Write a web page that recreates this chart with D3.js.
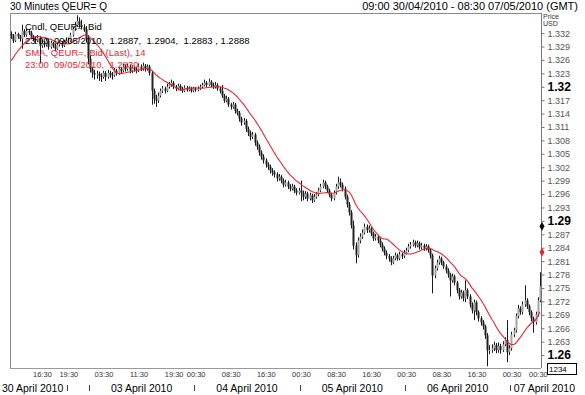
<!DOCTYPE html>
<html lang="en">
<head>
<meta charset="utf-8">
<title>QEUR= 30 minute candles</title>
<script src="https://cdn.jsdelivr.net/npm/d3@7"></script>
<style>
  body { margin: 0; background: #fff; }
  svg text { font-family: "Liberation Sans", Arial, sans-serif; }
</style>
</head>
<body>
<script>
// sessions (day label, bars in session); the Sunday evening session has no label
var sessionDays = ["30 April 2010", "", "03 April 2010", "04 April 2010", "05 April 2010", "06 April 2010", "07 April 2010"];
var sessionBars = [26, 10, 48, 48, 48, 48, 14];

// time labels under the plot, by bar index
var timeTickIndex  = [15, 27, 43, 59, 75, 85, 101, 117, 133, 149, 165, 181, 197, 213, 229, 241];
var timeTickLabels = ["16:30", "19:30", "03:30", "11:30", "19:30", "00:30", "08:30", "16:30",
                      "00:30", "08:30", "16:30", "00:30", "08:30", "16:30", "00:30", "00:30"];

var priceTicks = [1.26, 1.263, 1.266, 1.269, 1.272, 1.275, 1.278, 1.281, 1.284, 1.287, 1.29,
                  1.293, 1.296, 1.299, 1.302, 1.305, 1.308, 1.311, 1.314, 1.317, 1.32,
                  1.323, 1.326, 1.329, 1.332];
var boldTicks = [1.26, 1.29, 1.32];

// closes before the first visible bar, needed for the 14 period SMA
var warmupCloses = [1.3202, 1.3213, 1.3218, 1.3225, 1.3236, 1.3245, 1.3254, 1.3263, 1.3269, 1.3280, 1.3289, 1.3298, 1.3307];

var opens = [
  1.3318,1.3314,1.3303,1.3318,1.3312,1.3307,1.3325,1.3316,1.3325,1.3321,
  1.3312,1.3307,1.3303,1.3309,1.3292,1.3298,1.3294,1.3303,1.3289,1.3298,
  1.3292,1.3285,1.3294,1.3298,1.3292,1.3300,1.3303,1.3303,1.3316,1.3329,
  1.3338,1.3347,1.3338,1.3334,1.3329,1.3307,1.3263,1.3240,1.3231,1.3227,
  1.3229,1.3225,1.3222,1.3231,1.3222,1.3231,1.3227,1.3225,1.3236,1.3231,
  1.3240,1.3236,1.3245,1.3240,1.3245,1.3236,1.3242,1.3240,1.3236,1.3245,
  1.3240,1.3247,1.3240,1.3245,1.3231,1.3191,1.3173,1.3169,1.3180,1.3191,
  1.3196,1.3191,1.3200,1.3204,1.3209,1.3200,1.3196,1.3202,1.3196,1.3191,
  1.3198,1.3193,1.3196,1.3191,1.3196,1.3193,1.3196,1.3200,1.3204,1.3209,
  1.3204,1.3211,1.3204,1.3200,1.3204,1.3196,1.3191,1.3180,1.3169,1.3173,
  1.3160,1.3155,1.3160,1.3146,1.3142,1.3129,1.3120,1.3124,1.3106,1.3097,
  1.3088,1.3093,1.3075,1.3066,1.3053,1.3044,1.3035,1.3026,1.3021,1.3013,
  1.3008,1.3004,1.2995,1.2999,1.2990,1.2981,1.2986,1.2977,1.2972,1.2977,
  1.2968,1.2963,1.2968,1.2963,1.2954,1.2961,1.2950,1.2957,1.2946,1.2954,
  1.2959,1.2968,1.2977,1.2986,1.2977,1.2968,1.2959,1.2950,1.2963,1.2977,
  1.2986,1.2981,1.2972,1.2954,1.2937,1.2919,1.2890,1.2845,1.2823,1.2856,
  1.2865,1.2874,1.2887,1.2879,1.2883,1.2872,1.2861,1.2865,1.2856,1.2847,
  1.2838,1.2829,1.2821,1.2816,1.2807,1.2816,1.2823,1.2816,1.2825,1.2821,
  1.2829,1.2834,1.2843,1.2847,1.2852,1.2845,1.2850,1.2841,1.2845,1.2838,
  1.2843,1.2834,1.2823,1.2778,1.2794,1.2807,1.2816,1.2807,1.2798,1.2789,
  1.2780,1.2767,1.2776,1.2762,1.2745,1.2731,1.2740,1.2727,1.2745,1.2731,
  1.2713,1.2700,1.2718,1.2696,1.2682,1.2673,1.2664,1.2644,1.2611,1.2611,
  1.2615,1.2622,1.2611,1.2620,1.2611,1.2624,1.2633,1.2606,1.2615,1.2646,
  1.2655,1.2687,1.2704,1.2696,1.2713,1.2722,1.2709,1.2696,1.2682,1.2673,
  1.2691,1.2722];

var highs = [
  1.3324,1.3318,1.3323,1.3321,1.3316,1.3339,1.3329,1.3331,1.3329,1.3325,
  1.3316,1.3312,1.3316,1.3313,1.3305,1.3302,1.3309,1.3307,1.3303,1.3301,
  1.3296,1.3299,1.3304,1.3302,1.3305,1.3309,1.3310,1.3321,1.3334,1.3345,
  1.3360,1.3355,1.3350,1.3340,1.3336,1.3316,1.3270,1.3245,1.3238,1.3236,
  1.3234,1.3230,1.3236,1.3235,1.3238,1.3236,1.3233,1.3242,1.3240,1.3245,
  1.3244,1.3251,1.3249,1.3252,1.3249,1.3248,1.3247,1.3245,1.3252,1.3250,
  1.3254,1.3251,1.3250,1.3249,1.3236,1.3196,1.3182,1.3187,1.3196,1.3202,
  1.3200,1.3207,1.3211,1.3216,1.3213,1.3204,1.3207,1.3206,1.3200,1.3203,
  1.3202,1.3201,1.3200,1.3200,1.3199,1.3201,1.3205,1.3209,1.3216,1.3213,
  1.3218,1.3215,1.3209,1.3211,1.3208,1.3200,1.3204,1.3184,1.3180,1.3177,
  1.3164,1.3166,1.3164,1.3151,1.3146,1.3133,1.3130,1.3128,1.3111,1.3102,
  1.3099,1.3097,1.3080,1.3071,1.3058,1.3049,1.3040,1.3031,1.3026,1.3018,
  1.3013,1.3009,1.3005,1.3003,1.2995,1.2992,1.2990,1.2982,1.2983,1.2981,
  1.2973,1.2974,1.2990,1.2968,1.2967,1.2965,1.2963,1.2961,1.2960,1.2965,
  1.2974,1.2983,1.2992,1.2990,1.2981,1.2972,1.2963,1.2968,1.2983,1.2999,
  1.2995,1.2986,1.2977,1.2959,1.2942,1.2924,1.2901,1.2852,1.2863,1.2872,
  1.2881,1.2894,1.2892,1.2890,1.2887,1.2876,1.2871,1.2869,1.2861,1.2852,
  1.2843,1.2834,1.2826,1.2821,1.2822,1.2829,1.2827,1.2831,1.2829,1.2835,
  1.2840,1.2849,1.2853,1.2858,1.2856,1.2856,1.2854,1.2851,1.2849,1.2848,
  1.2847,1.2838,1.2827,1.2800,1.2813,1.2822,1.2820,1.2811,1.2803,1.2794,
  1.2784,1.2782,1.2780,1.2766,1.2750,1.2746,1.2744,1.2767,1.2749,1.2736,
  1.2718,1.2724,1.2722,1.2700,1.2687,1.2678,1.2668,1.2649,1.2622,1.2624,
  1.2630,1.2627,1.2628,1.2625,1.2631,1.2640,1.2678,1.2622,1.2652,1.2661,
  1.2693,1.2712,1.2709,1.2720,1.2756,1.2727,1.2713,1.2700,1.2686,1.2697,
  1.2729,1.2785];

var lows = [
  1.3307,1.3298,1.3300,1.3307,1.3301,1.3285,1.3311,1.3312,1.3316,1.3307,
  1.3302,1.3296,1.3300,1.3252,1.3287,1.3288,1.3290,1.3283,1.3285,1.3287,
  1.3279,1.3282,1.3290,1.3287,1.3289,1.3296,1.3297,1.3300,1.3312,1.3325,
  1.3334,1.3332,1.3328,1.3323,1.3300,1.3250,1.3232,1.3220,1.3216,1.3218,
  1.3213,1.3211,1.3218,1.3213,1.3218,1.3220,1.3216,1.3222,1.3225,1.3227,
  1.3229,1.3233,1.3234,1.3236,1.3230,1.3231,1.3234,1.3230,1.3233,1.3235,
  1.3236,1.3234,1.3236,1.3225,1.3160,1.3162,1.3155,1.3164,1.3176,1.3186,
  1.3185,1.3188,1.3196,1.3200,1.3195,1.3190,1.3192,1.3191,1.3186,1.3188,
  1.3189,1.3190,1.3187,1.3188,1.3189,1.3190,1.3193,1.3197,1.3201,1.3199,
  1.3201,1.3199,1.3195,1.3196,1.3191,1.3185,1.3175,1.3164,1.3165,1.3155,
  1.3149,1.3151,1.3140,1.3136,1.3122,1.3113,1.3115,1.3099,1.3090,1.3080,
  1.3083,1.3068,1.3059,1.3046,1.3037,1.3028,1.3019,1.3014,1.3006,1.3001,
  1.2997,1.2988,1.2990,1.2984,1.2975,1.2977,1.2971,1.2966,1.2968,1.2962,
  1.2957,1.2959,1.2944,1.2946,1.2949,1.2944,1.2946,1.2940,1.2942,1.2950,
  1.2955,1.2964,1.2973,1.2971,1.2962,1.2953,1.2944,1.2946,1.2959,1.2972,
  1.2975,1.2966,1.2948,1.2930,1.2912,1.2883,1.2836,1.2805,1.2818,1.2850,
  1.2860,1.2870,1.2873,1.2874,1.2866,1.2855,1.2856,1.2850,1.2841,1.2832,
  1.2823,1.2814,1.2809,1.2801,1.2803,1.2812,1.2811,1.2812,1.2815,1.2817,
  1.2825,1.2830,1.2838,1.2843,1.2840,1.2841,1.2836,1.2837,1.2833,1.2834,
  1.2829,1.2816,1.2738,1.2772,1.2789,1.2802,1.2801,1.2792,1.2783,1.2773,
  1.2731,1.2762,1.2756,1.2738,1.2724,1.2726,1.2720,1.2718,1.2725,1.2706,
  1.2693,1.2678,1.2689,1.2675,1.2666,1.2657,1.2636,1.2575,1.2602,1.2605,
  1.2609,1.2604,1.2605,1.2603,1.2607,1.2620,1.2584,1.2600,1.2610,1.2640,
  1.2650,1.2682,1.2690,1.2691,1.2708,1.2703,1.2689,1.2675,1.2650,1.2668,
  1.2686,1.2718];

var closes = [
  1.3314,1.3303,1.3318,1.3312,1.3307,1.3325,1.3316,1.3325,1.3321,1.3312,
  1.3307,1.3303,1.3309,1.3292,1.3298,1.3294,1.3303,1.3289,1.3298,1.3292,
  1.3285,1.3294,1.3298,1.3292,1.3300,1.3303,1.3303,1.3316,1.3329,1.3338,
  1.3347,1.3338,1.3334,1.3329,1.3307,1.3263,1.3240,1.3231,1.3227,1.3229,
  1.3225,1.3222,1.3231,1.3222,1.3231,1.3227,1.3225,1.3236,1.3231,1.3240,
  1.3236,1.3245,1.3240,1.3245,1.3236,1.3242,1.3240,1.3236,1.3245,1.3240,
  1.3247,1.3240,1.3245,1.3231,1.3191,1.3173,1.3169,1.3180,1.3191,1.3196,
  1.3191,1.3200,1.3204,1.3209,1.3200,1.3196,1.3202,1.3196,1.3191,1.3198,
  1.3193,1.3196,1.3191,1.3196,1.3193,1.3196,1.3200,1.3204,1.3209,1.3204,
  1.3211,1.3204,1.3200,1.3204,1.3196,1.3191,1.3180,1.3169,1.3173,1.3160,
  1.3155,1.3160,1.3146,1.3142,1.3129,1.3120,1.3124,1.3106,1.3097,1.3088,
  1.3093,1.3075,1.3066,1.3053,1.3044,1.3035,1.3026,1.3021,1.3013,1.3008,
  1.3004,1.2995,1.2999,1.2990,1.2981,1.2986,1.2977,1.2972,1.2977,1.2968,
  1.2963,1.2968,1.2963,1.2954,1.2961,1.2950,1.2957,1.2946,1.2954,1.2959,
  1.2968,1.2977,1.2986,1.2977,1.2968,1.2959,1.2950,1.2963,1.2977,1.2986,
  1.2981,1.2972,1.2954,1.2937,1.2919,1.2890,1.2845,1.2823,1.2856,1.2865,
  1.2874,1.2887,1.2879,1.2883,1.2872,1.2861,1.2865,1.2856,1.2847,1.2838,
  1.2829,1.2821,1.2816,1.2807,1.2816,1.2823,1.2816,1.2825,1.2821,1.2829,
  1.2834,1.2843,1.2847,1.2852,1.2845,1.2850,1.2841,1.2845,1.2838,1.2843,
  1.2834,1.2823,1.2778,1.2794,1.2807,1.2816,1.2807,1.2798,1.2789,1.2780,
  1.2767,1.2776,1.2762,1.2745,1.2731,1.2740,1.2727,1.2745,1.2731,1.2713,
  1.2700,1.2718,1.2696,1.2682,1.2673,1.2664,1.2644,1.2611,1.2611,1.2615,
  1.2622,1.2611,1.2620,1.2611,1.2624,1.2633,1.2606,1.2615,1.2646,1.2655,
  1.2687,1.2704,1.2696,1.2713,1.2722,1.2709,1.2696,1.2682,1.2673,1.2691,
  1.2722,1.2754];

// last values quoted in the legend
var lastCandle = 1.2888;
var lastSma = 1.2830;

var chartWidth = 585, chartHeight = 395;
var plotLeft = 10, plotRight = 541, plotTop = 13, plotBottom = 368;
var red = "#e3262f";

var svg = d3.select("body").append("svg")
    .attr("width", chartWidth)
    .attr("height", chartHeight);

var x = d3.scaleLinear().domain([-0.5, closes.length - 0.5]).range([plotLeft, plotRight]);
var y = d3.scaleLinear().domain([1.2571, 1.3365]).range([plotBottom, plotTop]);

// header
svg.append("text").attr("x", 10).attr("y", 10)
    .style("font-size", "10px").text("30 Minutes QEUR= Q");
svg.append("text").attr("x", 578).attr("y", 10).attr("text-anchor", "end")
    .style("font-size", "11px").text("09:00 30/04/2010 - 08:30 07/05/2010 (GMT)");
svg.append("text").attr("x", 543).attr("y", 19)
    .style("font-size", "7px").attr("fill", "#333").text("Price");
svg.append("text").attr("x", 543).attr("y", 26)
    .style("font-size", "7px").attr("fill", "#333").text("USD");

// frame
svg.append("path")
    .attr("d", "M" + (plotLeft + 0.5) + "," + plotBottom + "V" + (plotTop + 0.5) + "H" + plotRight)
    .attr("fill", "none").attr("stroke", "#8a8a8a");
svg.append("line")
    .attr("x1", plotLeft).attr("x2", plotRight)
    .attr("y1", plotBottom + 0.5).attr("y2", plotBottom + 0.5)
    .attr("stroke", "#9a9a9a");

// candles
var plot = svg.append("g");
var bars = plot.selectAll("g.bar").data(closes).enter().append("g").attr("class", "bar");
bars.append("line")
    .attr("x1", function(d, i) { return Math.round(x(i)) + 0.5; })
    .attr("x2", function(d, i) { return Math.round(x(i)) + 0.5; })
    .attr("y1", function(d, i) { return y(highs[i]); })
    .attr("y2", function(d, i) { return y(lows[i]); })
    .attr("stroke", "#1a1a1a").attr("stroke-width", 1);
bars.append("rect")
    .attr("x", function(d, i) { return Math.round(x(i)) - 0.5; })
    .attr("width", 2)
    .attr("y", function(d, i) { return y(Math.max(opens[i], d)); })
    .attr("height", function(d, i) { return Math.max(1, Math.abs(y(opens[i]) - y(d))); })
    .attr("fill", function(d, i) { return d >= opens[i] ? "#a3a3a3" : "#222"; });

// 14 period simple moving average of the closes
var allCloses = warmupCloses.concat(closes);
var sma = closes.map(function(d, i) { return d3.mean(allCloses.slice(i, i + 14)); });
plot.append("path")
    .datum(sma)
    .attr("fill", "none")
    .attr("stroke", red)
    .attr("stroke-width", 1.1)
    .attr("d", d3.line().x(function(d, i) { return x(i); }).y(function(d) { return y(d); }));

// price axis on the right
var yAxis = svg.append("g")
    .attr("transform", "translate(" + (plotRight + 0.5) + ",0)")
    .call(d3.axisRight(y).tickValues(priceTicks).tickSize(3).tickPadding(3)
        .tickFormat(function(d) { return String(+d.toFixed(3)); }));
yAxis.select(".domain").attr("stroke", "#777").attr("d", "M0," + plotTop + "V" + plotBottom);
yAxis.selectAll(".tick line").attr("stroke", "#777");
yAxis.selectAll(".tick text")
    .style("font-family", "'Liberation Sans', Arial, sans-serif")
    .style("font-size", function(d) { return boldTicks.indexOf(d) >= 0 ? "12px" : "9px"; })
    .style("font-weight", function(d) { return boldTicks.indexOf(d) >= 0 ? "bold" : "normal"; })
    .attr("fill", function(d) { return boldTicks.indexOf(d) >= 0 ? "#000" : "#555"; });

// last value markers
svg.append("path")
    .attr("transform", "translate(" + (plotRight + 1) + "," + y(lastCandle) + ")")
    .attr("d", d3.symbol(d3.symbolDiamond).size(22)).attr("fill", "#000");
svg.append("path")
    .attr("transform", "translate(" + (plotRight + 1) + "," + y(lastSma) + ")")
    .attr("d", d3.symbol(d3.symbolDiamond).size(22)).attr("fill", red);

// time axis
var xAxis = svg.append("g")
    .attr("transform", "translate(0," + plotBottom + ")")
    .call(d3.axisBottom(x).tickValues(timeTickIndex).tickSize(0).tickPadding(4)
        .tickFormat(function(d, i) { return timeTickLabels[i]; }));
xAxis.select(".domain").remove();
xAxis.selectAll(".tick text")
    .attr("dx", -2)
    .style("font-family", "'Liberation Sans', Arial, sans-serif")
    .style("font-size", "7.5px")
    .attr("fill", "#333");

// day separators and day labels
var edges = [0];
sessionBars.forEach(function(n, i) { edges.push(edges[i] + n); });
var days = svg.append("g");
edges.slice(1, -1).forEach(function(e) {
    var px = Math.round(x(e - 0.5)) + 0.5;
    days.append("line").attr("x1", px).attr("x2", px).attr("y1", 385).attr("y2", 391)
        .attr("stroke", "#444");
});
sessionDays.forEach(function(label, i) {
    if (!label) return;
    var t = days.append("text").attr("y", 392).style("font-size", "10.5px").text(label);
    if (i === 0) {
        t.attr("x", 2);
    } else if (i === sessionDays.length - 1) {
        t.attr("x", 575).attr("text-anchor", "end");
    } else {
        t.attr("x", (x(edges[i] - 0.5) + x(edges[i + 1] - 0.5)) / 2).attr("text-anchor", "middle");
    }
});

// 1234 box
svg.append("rect").attr("x", 547.5).attr("y", 363.5).attr("width", 29).attr("height", 11)
    .attr("fill", "#fff").attr("stroke", "#000");
svg.append("text").attr("x", 549).attr("y", 372).style("font-size", "8px").text("1234");

// legend
var legend = svg.append("g").style("font-size", "9.5px");
legend.append("text").attr("x", 25).attr("y", 29.5).text("Cndl, QEUR=, Bid");
legend.append("text").attr("x", 25).attr("y", 44).style("white-space", "pre")
    .text("23:00  09/05/2010,  1.2887,  1.2904,  1.2883 , 1.2888");
legend.append("text").attr("x", 25).attr("y", 55.5).attr("fill", red)
    .text("SMA, QEUR=, Bid (Last), 14");
legend.append("text").attr("x", 25).attr("y", 67.5).attr("fill", red).style("white-space", "pre")
    .text("23:00  09/05/2010,  " + lastSma.toFixed(4));
</script>
</body>
</html>
